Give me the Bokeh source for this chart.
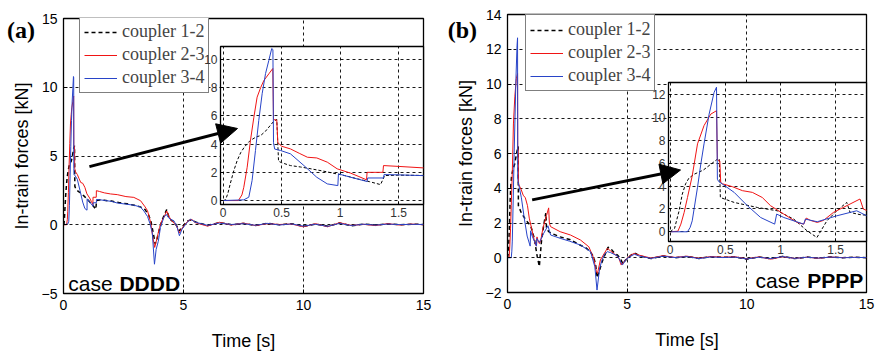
from bokeh.plotting import figure
from bokeh.layouts import column
from bokeh.models import (Range1d, Legend, LegendItem, Arrow, NormalHead, Label,
                          FixedTicker, GridBox)
from bokeh.embed import file_html
from bokeh.resources import INLINE

# ---------------- data ----------------
tail_t = [5.5, 6.0, 6.5, 7.0, 7.5, 8.0, 8.5, 9.0, 9.5, 10.0, 10.5, 11.0, 11.5,
          12.0, 12.5, 13.0, 13.5, 14.0, 14.5, 15.0]

# panel (a) case DDDD
a12_t = [0, 0.02, 0.04, 0.06, 0.09, 0.12, 0.15, 0.18, 0.23, 0.28, 0.32, 0.36, 0.40, 0.43,
         0.458, 0.473, 0.50, 0.575, 0.66, 0.75, 0.86, 0.97, 1.06, 1.145, 1.25, 1.345, 1.38,
         1.5, 1.7, 2.0, 2.3, 2.65, 2.95, 3.2, 3.4, 3.55, 3.65, 3.75, 3.82, 3.9, 4.0, 4.1,
         4.2, 4.3, 4.4, 4.5, 4.62, 4.72, 4.82, 4.92, 5.05, 5.2, 5.35]
a12_f = [0, 0.05, 0.5, 1.18, 2.1, 2.84, 3.4, 3.78, 4.25, 4.5, 4.61, 4.9, 5.3, 5.6,
         5.75, 2.79, 2.68, 2.48, 2.38, 2.25, 2.08, 1.89, 1.73, 1.54, 1.34, 1.13, 1.77,
         1.8, 1.78, 1.72, 1.62, 1.52, 1.42, 1.3, 1.1, 0.7, 0.2, -0.7, -1.4, -1.0, -0.3, 0.3,
         0.7, 1.1, 0.5, 0.3, 0.2, -0.1, -0.45, -0.2, 0.05, 0.3, 0.35]
a12_tail = [0.2, -0.05, 0.15, 0.0, 0.1, -0.05, 0.1, 0.0, 0.08, -0.12, 0.05, -0.1, 0.12,
            -0.08, 0.05, -0.02, 0.06, 0.0, 0.04, 0.02]

a23_t = [0, 0.13, 0.16, 0.176, 0.205, 0.233, 0.262, 0.29, 0.32, 0.347, 0.39, 0.424, 0.43,
         0.458, 0.467, 0.50, 0.575, 0.65, 0.72, 0.80, 0.89, 0.974, 1.09, 1.16, 1.225, 1.23,
         1.365, 1.37, 1.5, 1.7, 1.96, 2.24, 2.6, 2.93, 3.21, 3.4, 3.5, 3.63, 3.72, 3.8, 3.88,
         4.0, 4.1, 4.2, 4.3, 4.4, 4.5, 4.62, 4.72, 4.82, 4.92, 5.05, 5.2, 5.35]
a23_f = [0, 0, 0.4, 0.94, 2.36, 4.25, 5.9, 7.33, 8.0, 8.5, 8.98, 9.36, 5.74,
         5.7, 4.1, 3.85, 3.66, 3.35, 3.07, 3.02, 2.72, 2.25, 1.94, 1.7, 1.47, 2.0,
         2.0, 2.48, 2.42, 2.32, 2.24, 2.19, 2.05, 1.99, 1.75, 1.3, 1.02, 0.17, -0.9, -1.65, -1.1,
         -0.2, 0.3, 0.6, 1.0, 0.6, 0.29, 0.1, -0.1, -0.6, -0.3, 0.0, 0.3, 0.38]
a23_tail = [0.15, -0.1, 0.18, -0.02, 0.12, -0.06, 0.08, 0.02, 0.05, -0.15, 0.08, -0.15, 0.15,
            -0.05, 0.03, -0.06, 0.08, -0.02, 0.05, 0.0]

a34_t = [0, 0.176, 0.219, 0.247, 0.276, 0.304, 0.333, 0.362, 0.39, 0.415, 0.425, 0.43,
         0.44, 0.49, 0.575, 0.69, 0.80, 0.89, 0.98, 0.985, 1.09, 1.23, 1.235, 1.37, 1.375,
         1.5, 1.7, 2.0, 2.24, 2.6, 2.93, 3.2, 3.35, 3.5, 3.6, 3.7, 3.79, 3.86, 3.95, 4.04,
         4.18, 4.28, 4.38, 4.46, 4.6, 4.74, 4.83, 4.94, 5.15, 5.29]
a34_f = [0, 0.05, 0.24, 1.42, 3.55, 5.67, 7.57, 9.0, 9.93, 10.78, 10.7, 4.1,
         3.65, 3.55, 3.31, 2.48, 1.65, 1.18, 1.06, 1.89, 1.65, 1.35, 1.6, 1.6, 1.84,
         1.82, 1.77, 1.7, 1.58, 1.5, 1.42, 1.3, 1.0, 0.6, 0.1, -0.6, -2.87, -1.8, -1.2, -0.2,
         0.53, 0.75, 0.5, 0.4, 0.29, -0.2, -0.8, -0.32, 0.17, 0.4]
a34_tail = [0.18, -0.04, 0.12, 0.02, 0.08, -0.04, 0.1, -0.02, 0.06, -0.1, 0.04, -0.12, 0.1,
            -0.06, 0.04, -0.03, 0.05, 0.01, 0.03, 0.02]

# panel (b) case PPPP
b12_t = [0, 0.04, 0.08, 0.11, 0.14, 0.17, 0.22, 0.30, 0.36, 0.43, 0.445, 0.455, 0.58, 0.79,
         0.97, 1.12, 1.24, 1.33, 1.42, 1.51, 1.60, 1.63, 1.72, 1.85, 2.2, 2.6, 3.05, 3.3,
         3.47, 3.6, 3.68, 3.75, 3.85, 3.95, 4.05, 4.2, 4.3, 4.45, 4.6, 4.72, 4.82, 4.92,
         5.05, 5.2, 5.35]
b12_f = [0, 0.3, 1.8, 3.3, 4.2, 4.7, 5.05, 5.4, 5.85, 6.37, 6.4, 3.0, 2.57, 2.13,
         1.84, 1.11, 0.09, -0.5, 0.96, 1.84, 2.57, 1.7, 1.5, 1.4, 1.2, 1.05, 0.72, 0.55,
         0.32, 0.05, -0.4, -1.15, -0.7, -0.25, 0.1, 0.6, 0.55, 0.3, 0.15, -0.05, -0.35, -0.15,
         0.0, 0.2, 0.25]
b12_tail = [0.12, -0.05, 0.1, 0.0, 0.08, -0.04, 0.06, 0.02, 0.05, -0.08, 0.04, -0.06, 0.08,
            -0.05, 0.04, -0.02, 0.05, 0.0, 0.03, 0.0]

b23_t = [0, 0.07, 0.097, 0.127, 0.157, 0.2, 0.248, 0.307, 0.368, 0.42, 0.428, 0.45,
         0.458, 0.474, 0.564, 0.655, 0.745, 0.835, 0.91, 1.03, 1.15, 1.21, 1.233, 1.27,
         1.333, 1.39, 1.48, 1.63, 1.72, 1.75, 1.8, 2.2, 2.63, 3.05, 3.4, 3.6, 3.7, 3.76,
         3.88, 4.0, 4.17, 4.3, 4.44, 4.65, 4.75, 4.93, 5.1, 5.28]
b23_f = [0, 0.05, 0.67, 1.7, 3.0, 4.9, 7.7, 9.3, 10.3, 10.6, 6.3, 6.2,
         4.33, 4.2, 3.95, 3.6, 3.45, 3.0, 2.28, 1.55, 0.82, 0.67, 1.2, 1.0,
         0.82, 1.0, 1.7, 2.43, 2.87, 1.99, 1.79, 1.5, 1.31, 1.02, 0.63, -0.03, -0.71, -0.9,
         -0.13, 0.15, 0.54, 0.4, 0.25, 0.0, -0.42, -0.13, 0.1, 0.25]
b23_tail = [0.15, -0.02, 0.12, 0.02, 0.09, -0.03, 0.07, 0.03, 0.06, -0.06, 0.05, -0.08, 0.06,
            -0.04, 0.03, -0.03, 0.04, 0.01, 0.02, 0.01]

b34_t = [0, 0.157, 0.181, 0.2, 0.248, 0.278, 0.307, 0.353, 0.398, 0.42, 0.428, 0.44,
         0.473, 0.58, 0.70, 0.82, 0.947, 0.965, 1.03, 1.21, 1.225, 1.333, 1.51, 1.69, 1.8,
         2.2, 2.6, 3.05, 3.47, 3.65, 3.74, 3.85, 3.95, 4.05, 4.17, 4.3, 4.45, 4.6, 4.8, 4.95,
         5.1, 5.3]
b34_f = [0, 0, 0.38, 0.96, 3.9, 5.94, 7.7, 10.3, 12.2, 12.66, 4.6, 4.4,
         4.18, 3.45, 2.28, 1.25, 0.67, 1.55, 1.25, 0.67, 1.11, 0.88, 1.4, 1.84, 1.31,
         1.12, 0.95, 0.73, 0.35, -0.52, -1.86, -0.6, -0.13, 0.2, 0.35, 0.3, 0.2, 0.1, -0.42, -0.1,
         0.05, 0.2]
b34_tail = [0.1, -0.04, 0.09, 0.01, 0.07, -0.05, 0.05, 0.01, 0.04, -0.07, 0.03, -0.05, 0.07,
            -0.04, 0.03, -0.02, 0.04, 0.0, 0.02, 0.01]

labels = ["coupler 1-2", "coupler 2-3", "coupler 3-4"]
main_xticks = [0, 5, 10, 15]
a_yticks = [-5, 0, 5, 10, 15]
b_yticks = [-2, 0, 2, 4, 6, 8, 10, 12, 14]
inset_xticks = [0, 0.5, 1, 1.5]
inset_xlabels = ["0", "0.5", "1", "1.5"]
a_inset_yticks = [0, 2, 4, 6, 8, 10]
b_inset_yticks = [0, 2, 4, 6, 8, 10, 12]

# ---------------- styling ----------------
SANS = "Liberation Sans"
SERIF = "Liberation Serif"
RED = "#f01414"
BLUE = "#2844c8"
H = 354


def style_axes(p, fs, color, tick_in, standoff):
    for ax in p.axis:
        ax.axis_line_color = "black"
        ax.axis_line_width = 1
        ax.major_tick_in = tick_in
        ax.major_tick_out = 0
        ax.major_tick_line_color = "black"
        ax.minor_tick_line_color = None
        ax.major_label_text_font = SANS
        ax.major_label_text_font_size = fs
        ax.major_label_text_color = color
        ax.major_label_standoff = standoff
        ax.axis_label_text_font = SANS
        ax.axis_label_text_font_size = "18px"
        ax.axis_label_text_font_style = "normal"
        ax.axis_label_text_color = "black"


def style_grid(p, width):
    for g in p.grid:
        g.grid_line_color = "black"
        g.grid_line_dash = "3 3"
        g.grid_line_width = width
        g.grid_line_alpha = 0.9


def build_panel(W, frame, yr, yticks, iframe, ixr, iyr, iyticks, series,
                leg_loc, arrow_pts, case_word, case_pos, tag, tag_pos):
    fl, ft, fr, fb = frame
    xr = Range1d(0, 15)
    yrr = Range1d(*yr)
    p = figure(width=W, height=H, x_range=xr, y_range=yrr, output_backend="svg",
               toolbar_location=None, min_border_left=fl, min_border_right=W - fr,
               min_border_top=ft, min_border_bottom=H - fb)
    p.outline_line_color = "black"
    p.outline_line_width = 1.3
    p.background_fill_color = "white"
    p.border_fill_color = "white"
    p.xaxis.ticker = FixedTicker(ticks=main_xticks)
    p.yaxis.ticker = FixedTicker(ticks=yticks)
    p.xaxis.axis_label = "Time [s]"
    p.yaxis.axis_label = "In-train forces [kN]"
    style_axes(p, "14px", "black", 4, 6)
    p.xaxis.axis_label_standoff = 18
    p.yaxis.axis_label_standoff = 7
    style_grid(p, 1)

    items = []
    for lab, t, f, col, dash, lw in series:
        r = p.line(t, f, line_color=col, line_dash=dash, line_width=lw)
        items.append(LegendItem(label=lab, renderers=[r]))
    leg = Legend(items=items, location=leg_loc, label_text_font=SERIF,
                 label_text_font_size="18px", glyph_width=33, glyph_height=20,
                 label_height=20, spacing=2, padding=4, margin=0, label_standoff=5,
                 border_line_color="black", border_line_width=1,
                 background_fill_color="white", background_fill_alpha=1)
    p.add_layout(leg)

    # inset
    il, it, ir, ib = iframe
    q = figure(width=W, height=H, x_range=Range1d(*ixr), y_range=Range1d(*iyr),
               output_backend="svg", toolbar_location=None, min_border_left=il,
               min_border_right=W - ir, min_border_top=it, min_border_bottom=H - ib)
    q.border_fill_alpha = 0
    q.background_fill_color = "white"
    q.outline_line_color = "black"
    q.outline_line_width = 1.3
    q.xaxis.ticker = FixedTicker(ticks=inset_xticks)
    q.xaxis.major_label_overrides = {k: v for k, v in zip(inset_xticks, inset_xlabels)}
    q.yaxis.ticker = FixedTicker(ticks=iyticks)
    style_axes(q, "12px", "#333333", 3, 3)
    style_grid(q, 1)
    for lab, t, f, col, dash, lw in series:
        q.line(t, f, line_color=col, line_dash="3 2" if dash != "solid" else "solid",
               line_width=1.0)

    # overlay spanning the whole canvas, with the main data coordinates extended
    sx = 15.0 / (fr - fl)
    sy = (yr[1] - yr[0]) / (fb - ft)
    o = figure(width=W, height=H,
               x_range=Range1d(0 - fl * sx, 15 + (W - fr) * sx),
               y_range=Range1d(yr[0] - (H - fb) * sy, yr[1] + ft * sy),
               output_backend="svg", toolbar_location=None,
               min_border_left=0, min_border_right=0, min_border_top=0,
               min_border_bottom=0, x_axis_location=None, y_axis_location=None)
    o.border_fill_alpha = 0
    o.background_fill_alpha = 0
    o.outline_line_color = None
    o.xgrid.visible = False
    o.ygrid.visible = False
    (x0, y0), (x1, y1) = arrow_pts
    o.add_layout(Arrow(end=NormalHead(size=20, fill_color="black", line_color="black"),
                       x_start=x0, y_start=y0, x_end=x1, y_end=y1,
                       line_width=3, line_color="black"))
    cx, cy, px_ = case_pos
    o.add_layout(Label(x=cx, y=cy, text="case", text_font=SANS, text_font_size="21px",
                       text_color="black", text_baseline="alphabetic"))
    o.add_layout(Label(x=px_, y=cy, text=case_word, text_font=SANS, text_font_size="21px",
                       text_font_style="bold", text_color="black",
                       text_baseline="alphabetic"))
    o.add_layout(Label(x=tag_pos[0], y=tag_pos[1], text=tag, text_font=SERIF,
                       text_font_size="24px", text_font_style="bold", text_color="black",
                       text_baseline="alphabetic"))
    return p, q, o


series_a = [
    (labels[0], a12_t + tail_t, a12_f + a12_tail, "black", "4 3", 1.5),
    (labels[1], a23_t + tail_t, a23_f + a23_tail, RED, "solid", 1.0),
    (labels[2], a34_t + tail_t, a34_f + a34_tail, BLUE, "solid", 1.0),
]
series_b = [
    (labels[0], b12_t + tail_t, b12_f + b12_tail, "black", "4 3", 1.5),
    (labels[1], b23_t + tail_t, b23_f + b23_tail, RED, "solid", 1.0),
    (labels[2], b34_t + tail_t, b34_f + b34_tail, BLUE, "solid", 1.0),
]

pa, qa, oa = build_panel(
    440, (63, 18, 423, 293), (-5, 15), a_yticks,
    (220, 46, 423, 204), (-0.023, 1.712), (-0.28, 10.92), a_inset_yticks,
    series_a, (16, 200), ((1.08, 4.23), (7.25, 7.0)),
    "DDDD", (0.2, -4.3, 2.33), "(a)", (-2.35, 14.15))

pb, qb, ob = build_panel(
    437, (67, 14, 426, 292), (-2, 14), b_yticks,
    (228, 82, 426, 241), (-0.015, 1.779), (-0.85, 13.07), b_inset_yticks,
    series_b, (18, 201), ((1.03, 3.33), (7.23, 5.05)),
    "PPPP", (10.36, -1.31, 12.52), "(b)", (-2.5, 13.1))

# each figure wrapped in its own column so that the grid does not align frames
grid = GridBox(children=[(column(pa), 0, 0), (column(qa), 0, 0), (column(oa), 0, 0),
                         (column(pb), 0, 1), (column(qb), 0, 1), (column(ob), 0, 1)],
               spacing=0)

open("out.html", "w").write(file_html(grid, INLINE))
